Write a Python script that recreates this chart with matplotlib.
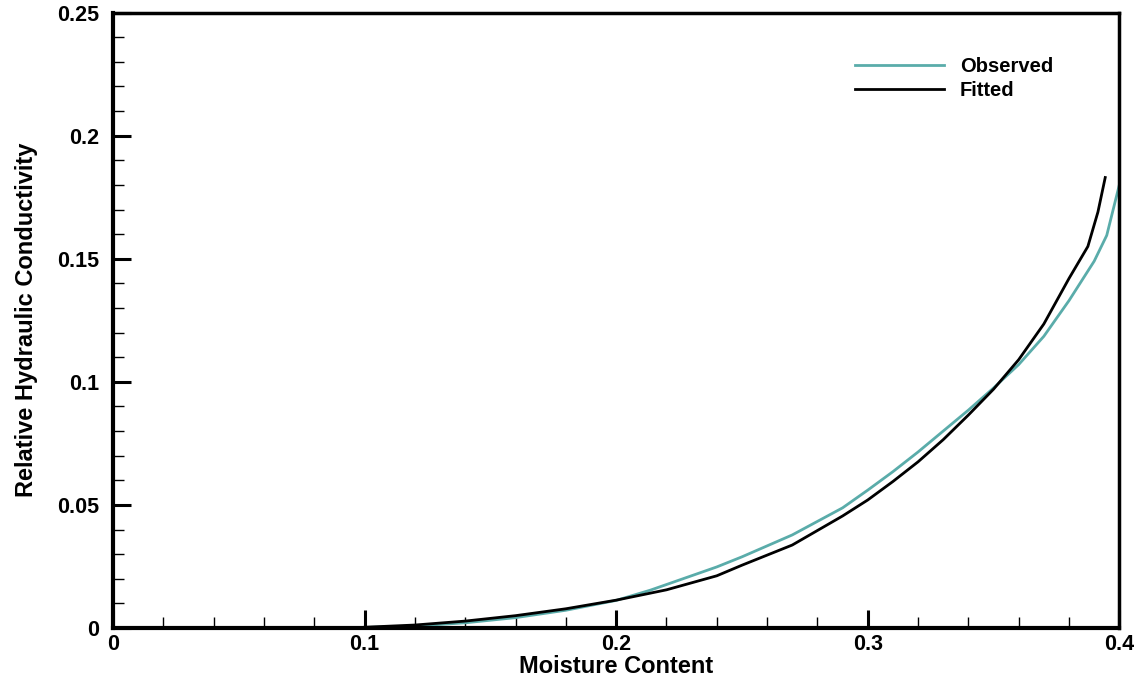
import matplotlib.pyplot as plt
from matplotlib.ticker import MultipleLocator, FuncFormatter

plt.rcParams['font.family'] = ['Liberation Sans', 'DejaVu Sans']
plt.rcParams['font.weight'] = 'bold'

# observed relative hydraulic conductivity vs moisture content
obs_theta = [0.10, 0.12, 0.14, 0.16, 0.18, 0.20, 0.2137, 0.24, 0.25, 0.27, 0.29,
             0.30, 0.31, 0.32, 0.33, 0.34, 0.35, 0.36, 0.37, 0.38, 0.39, 0.395, 0.40]
obs_k = [0.0002, 0.0008, 0.0021, 0.0042, 0.0072, 0.0112, 0.0154, 0.0248, 0.0289,
         0.0378, 0.0488, 0.0560, 0.0635, 0.0715, 0.0800, 0.0885, 0.0975, 0.1070,
         0.1185, 0.1330, 0.1490, 0.1595, 0.1800]

# fitted curve
fit_theta = [0.10, 0.12, 0.14, 0.16, 0.18, 0.20, 0.22, 0.24, 0.25, 0.27, 0.29,
             0.30, 0.31, 0.32, 0.33, 0.34, 0.35, 0.36, 0.37, 0.38, 0.3875, 0.3915, 0.3944]
fit_k = [0.0003, 0.0012, 0.0028, 0.0050, 0.0078, 0.0113, 0.0155, 0.0212, 0.0255,
         0.0337, 0.0455, 0.0520, 0.0595, 0.0675, 0.0765, 0.0865, 0.0970, 0.1090,
         0.1235, 0.1420, 0.1550, 0.1690, 0.1830]

fig = plt.figure(figsize=(11.41, 6.77), dpi=100)
ax = fig.add_axes([0.099, 0.0724, 0.882, 0.909])

ax.plot(obs_theta, obs_k, color='#5aacaa', lw=2, label='Observed')
ax.plot(fit_theta, fit_k, color='black', lw=2, label='Fitted')

ax.set_xlim(0, 0.4)
ax.set_ylim(0, 0.25)
ax.xaxis.set_major_locator(MultipleLocator(0.1))
ax.xaxis.set_minor_locator(MultipleLocator(0.02))
ax.yaxis.set_major_locator(MultipleLocator(0.05))
ax.yaxis.set_minor_locator(MultipleLocator(0.01))
fmt = FuncFormatter(lambda v, p: ('%g' % round(v, 3)))
ax.xaxis.set_major_formatter(fmt)
ax.yaxis.set_major_formatter(fmt)

ax.tick_params(which='major', direction='in', length=13, width=2.2, labelsize=15.5)
ax.tick_params(axis='y', which='major', pad=10)
ax.tick_params(axis='x', which='major', pad=4)
ax.tick_params(which='minor', direction='in', length=8, width=1)
ax.tick_params(top=False, right=False)
for lab in ax.get_xticklabels() + ax.get_yticklabels():
    lab.set_fontweight('bold')

for side in ['left', 'bottom']:
    ax.spines[side].set_linewidth(3)
for side in ['top', 'right']:
    ax.spines[side].set_linewidth(2.5)

ax.set_xlabel('Moisture Content', fontsize=17, fontweight='bold', labelpad=0)
ax.set_ylabel('Relative Hydraulic Conductivity', fontsize=17, fontweight='bold', labelpad=14)

ax.legend(loc='upper right', bbox_to_anchor=(0.952, 0.958), frameon=False,
          handlelength=4.4, handletextpad=0.8, labelspacing=0.28,
          prop={'weight': 'bold', 'size': 14.5})

fig.savefig('out.png', dpi=100)
